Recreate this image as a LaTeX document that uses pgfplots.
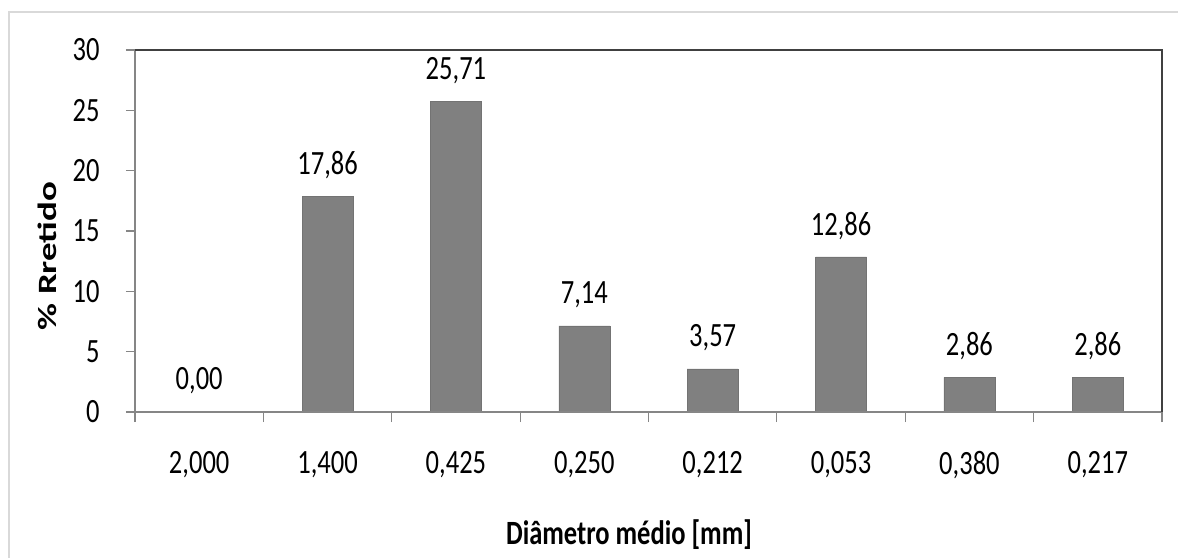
\documentclass[border=0pt]{standalone}
\usepackage{pgfplots}
\pgfplotsset{compat=1.18}
\usepackage{fontspec}
\setmainfont[FakeStretch=0.78]{Carlito}
\newfontfamily\yfont[FakeStretch=1.4]{Carlito}
\definecolor{barc}{HTML}{808080}
\definecolor{axg}{HTML}{868686}
\definecolor{frm}{HTML}{D9D9D9}
\definecolor{dk}{HTML}{404040}
\begin{document}
\begin{tikzpicture}[x=1pt,y=1pt]
\useasboundingbox (-67.5,-72.5) rectangle (521.5,206);
\draw[frm, line width=1.2pt] (-63,-120) rectangle (560,200);
\begin{axis}[
  at={(0,0)}, anchor=south west, scale only axis,
  width=513.5pt, height=181pt,
  xmin=-0.5, xmax=7.5, ymin=0, ymax=30,
  clip=false,
  axis line style={draw=none},
  xtick pos=bottom, ytick pos=left,
  xtick={0,...,7},
  xticklabels={{2,000},{1,400},{0,425},{0,250},{0,212},{0,053},{0,380},{0,217}},
  major x tick style={draw=none},
  minor xtick={-0.5,0.5,...,7.5},
  minor tick length=5pt,
  major tick length=4.5pt,
  ytick={0,5,...,30},
  tick align=outside,
  tick style={axg, line width=0.6pt},
  minor tick style={axg, line width=0.6pt},
  /pgf/number format/assume math mode=true,
  tick label style={font=\fontsize{17}{20}\selectfont, black},
  xticklabel style={anchor=center, yshift=-22pt},
  yticklabel style={anchor=east, inner sep=0pt, xshift=-13pt},
  nodes near coords,
  point meta=explicit symbolic,
  every node near coord/.append style={anchor=center, yshift=15.5pt, font=\fontsize{17}{20}\selectfont, black},
]
\addplot[ybar, bar width=25.5pt, fill=barc, draw=barc!90!black, line width=0.3pt]
  table[x=x, y=y, meta=lab] {
x y lab
0 0.00 0,00
1 17.86 17,86
2 25.71 25,71
3 7.14 7,14
4 3.57 3,57
5 12.86 12,86
6 2.86 2,86
7 2.86 2,86
};
\draw[axg, line width=0.8pt] (rel axis cs:0,0) -- (rel axis cs:1,0);
\draw[axg, line width=0.8pt] (rel axis cs:0,0) -- (rel axis cs:0,1);
\draw[dk, line width=1pt] (rel axis cs:0,1) -- (rel axis cs:1,1) -- (rel axis cs:1,0);
\end{axis}
\node[rotate=90, font=\yfont\fontsize{13.2}{16}\selectfont\bfseries] at (-44,78) {\% Rretido};
\node[font=\fontsize{17}{20}\selectfont\bfseries] at (247,-61.5) {Diâmetro médio [mm]};
\end{tikzpicture}
\end{document}
